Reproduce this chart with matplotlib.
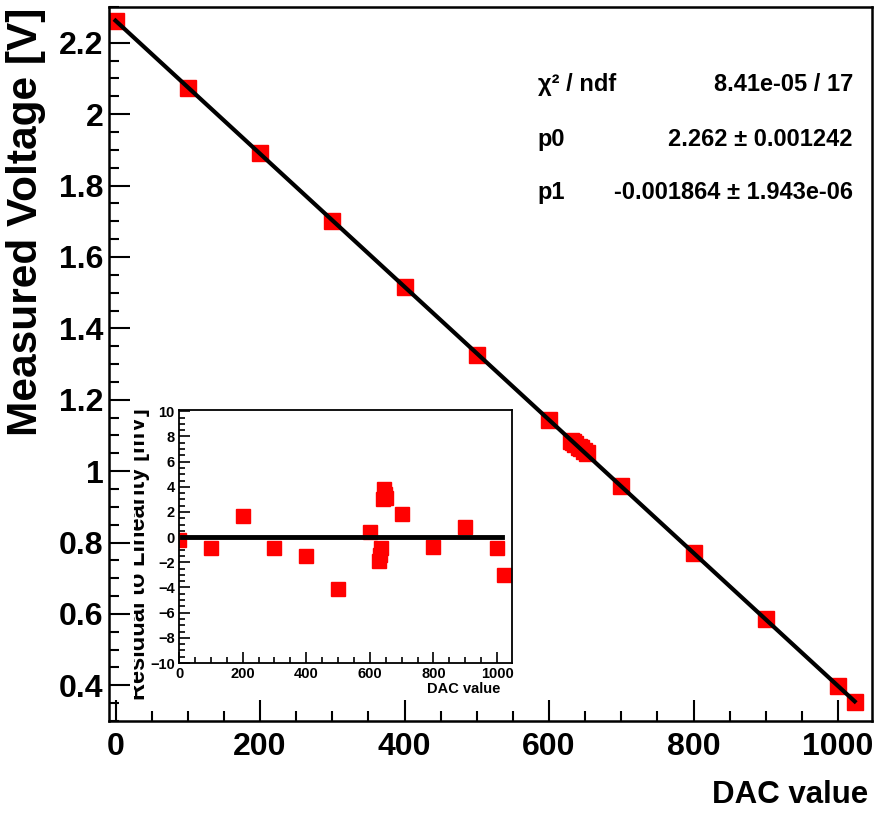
import numpy as np
import matplotlib
matplotlib.use('Agg')
import matplotlib.pyplot as plt
from matplotlib.ticker import MultipleLocator
from matplotlib.transforms import Bbox, TransformedBbox

# DAC scan points
dac = [0, 100, 200, 300, 400, 500, 600, 630, 633, 636, 642, 644, 648, 652,
       700, 800, 900, 1000, 1023]
voltage = [2.2618, 2.0747, 1.8909, 1.7019, 1.5149, 1.3259, 1.1440, 1.0858,
           1.0807, 1.0756, 1.0683, 1.0654, 1.0575, 1.0498, 0.9591, 0.7700,
           0.5852, 0.3971, 0.3521]
residual_mv = [-0.25, -0.9, 1.65, -0.9, -1.5, -4.1, 0.4, -1.9, -1.4, -0.9,
               3.0, 3.8, 3.4, 3.1, 1.85, -0.8, 0.8, -0.9, -3.0]

# fit results shown in the stats box
p0, p0_err = 2.262, 0.001242
p1, p1_err = -0.001864, 1.943e-06
chi2_txt = "8.41e-05 / 17"

font = ['Liberation Sans', 'DejaVu Sans']

fig = plt.figure(figsize=(8.75, 8.15), dpi=100)
ax = fig.add_axes([0.1246, 0.1153, 0.872, 0.876])

ax.plot(dac, voltage, 's', color='#ff0000', ms=12, mec='#ff0000', zorder=2)
xf = np.array([0, 1023])
ax.plot(xf, p0 + p1 * xf, '-', color='black', lw=3, zorder=3)

ax.set_xlim(-9, 1047)
ax.set_ylim(0.3, 2.3)
ax.xaxis.set_minor_locator(MultipleLocator(50))
ax.yaxis.set_minor_locator(MultipleLocator(0.05))
ax.tick_params(which='both', direction='in', top=False, right=False, width=1.5)
ax.tick_params(which='major', length=15)
ax.tick_params(which='minor', length=7.5)
ax.tick_params(axis='y', pad=4)
ax.tick_params(axis='x', pad=8)
ax.set_xticks([0, 200, 400, 600, 800, 1000])
ax.set_xticklabels(['0', '200', '400', '600', '800', '1000'])
ax.set_yticks([0.4, 0.6, 0.8, 1.0, 1.2, 1.4, 1.6, 1.8, 2.0, 2.2])
ax.set_yticklabels(['0.4', '0.6', '0.8', '1', '1.2', '1.4', '1.6', '1.8', '2', '2.2'])
for lab in ax.get_xticklabels() + ax.get_yticklabels():
    lab.set_family(font)
    lab.set_fontweight('bold')
    lab.set_fontsize(23)
for sp in ax.spines.values():
    sp.set_linewidth(1.8)

fig.text(26 / 875, 1 - 8 / 815, 'Measured Voltage [V]', rotation=90,
         ha='center', va='top', family=font, fontweight='bold', fontsize=30.5)
ax.set_xlabel('DAC value', family=font, fontweight='bold', fontsize=22.5,
              loc='right')
ax.xaxis.set_label_coords(0.995, -0.083)

# stats box (no frame)
rows = [('\u03c7\u00b2 / ndf', chi2_txt),
        ('p0', f'{p0:.3f} \u00b1 {p0_err:.6f}'),
        ('p1', f'{p1:.6f} \u00b1 {p1_err:.3e}')]
row_y = [0.891, 0.815, 0.741]
for (name, val), yy in zip(rows, row_y):
    ax.text(0.562, yy, name, transform=ax.transAxes, ha='left', va='center',
            family=font, fontweight='bold', fontsize=17)
    ax.text(0.975, yy, val, transform=ax.transAxes, ha='right', va='center',
            family=font, fontweight='bold', fontsize=17)

# inset with residuals
ins = fig.add_axes([0.2046, 0.1865, 0.3806, 0.3104])
ins.plot(dac, residual_mv, 's', color='#ff0000', mec='#ff0000', ms=10, zorder=2)
ins.plot([8, 1015], [0, 0], '-', color='black', lw=3.5, zorder=3)
ins.set_xlim(0, 1047)
ins.set_ylim(-10, 10.1)
ins.xaxis.set_major_locator(MultipleLocator(200))
ins.xaxis.set_minor_locator(MultipleLocator(50))
ins.yaxis.set_major_locator(MultipleLocator(2))
ins.yaxis.set_minor_locator(MultipleLocator(0.5))
ins.tick_params(which='both', direction='in', top=False, right=False, width=1.2)
ins.tick_params(which='major', length=8)
ins.tick_params(which='minor', length=4)
ins.tick_params(axis='y', pad=3)
ins.tick_params(axis='x', pad=3)
for lab in ins.get_xticklabels() + ins.get_yticklabels():
    lab.set_family(font)
    lab.set_fontweight('bold')
    lab.set_fontsize(10.5)
for sp in ins.spines.values():
    sp.set_linewidth(1.3)
ins.set_xlabel('DAC value', family=font, fontweight='bold', fontsize=10.5,
               loc='right')
ins.xaxis.set_label_coords(0.964, -0.075)

# inset y title, partly hidden by the inset pad edge as in the original
t = fig.text(150 / 875, 1 - 408 / 815, 'Residual to Linearity [mV]',
             rotation=90, ha='right', va='top', family=font,
             fontweight='bold', fontsize=17)
t.set_clip_box(TransformedBbox(Bbox([[134 / 875, 0], [1, 1]]), fig.transFigure))
t.set_clip_on(True)

fig.savefig('out.png', dpi=100)
